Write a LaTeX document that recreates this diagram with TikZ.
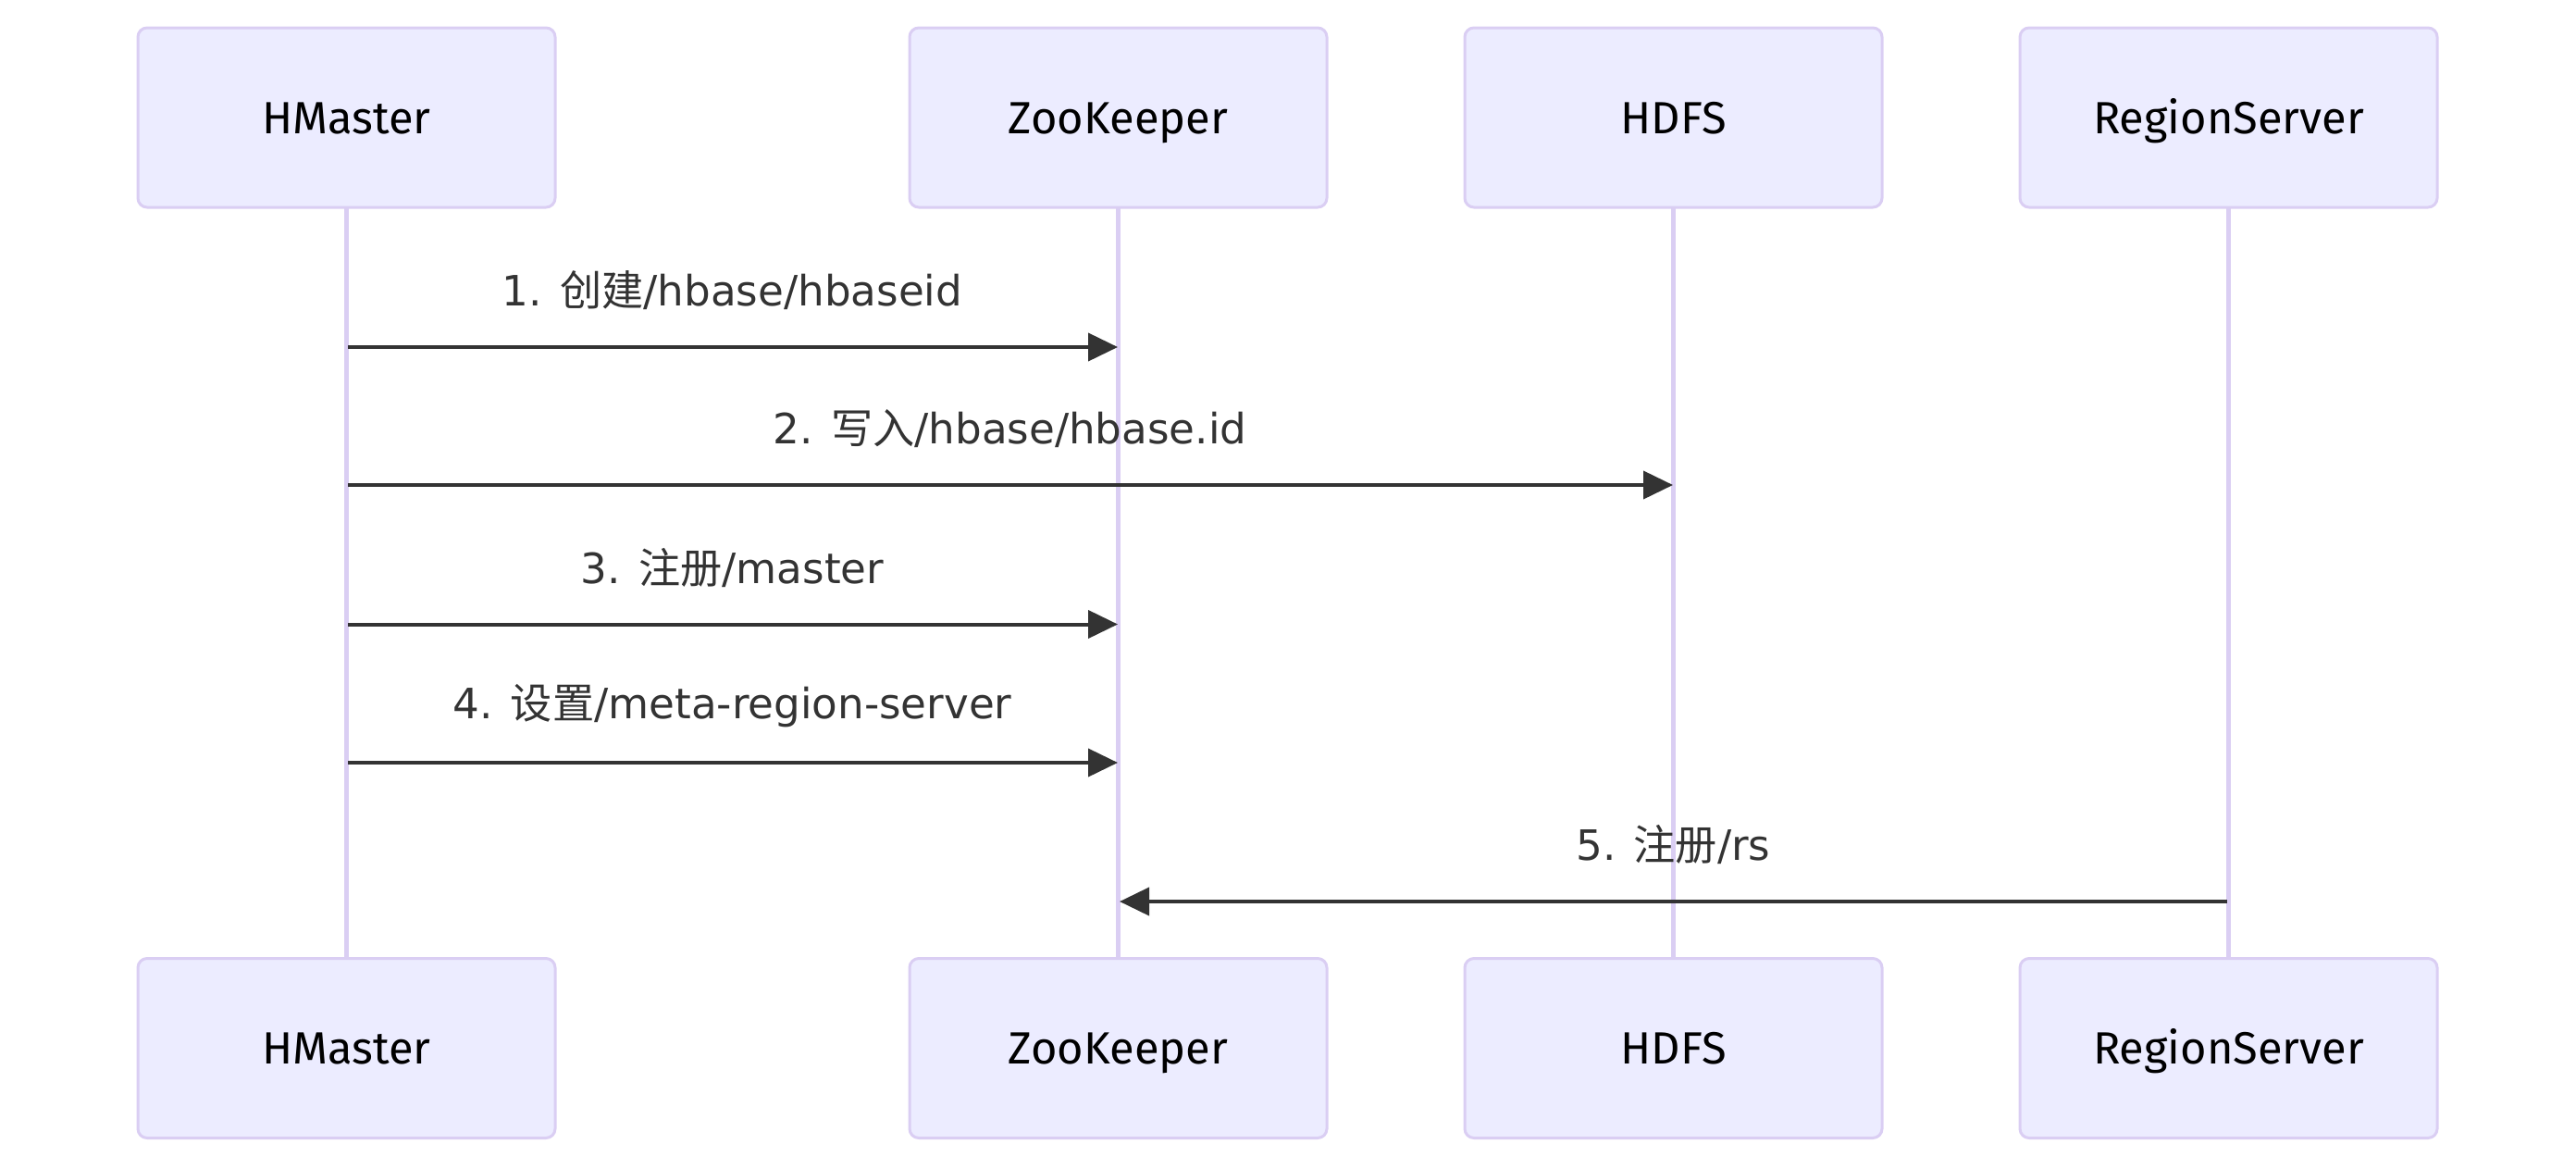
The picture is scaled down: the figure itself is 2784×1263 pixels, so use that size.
\documentclass[tikz,border=0pt]{standalone}
\usepackage{fontspec}
\setmainfont{DejaVu Sans}
\newfontfamily\cjk{Noto Sans CJK SC}
\newfontfamily\actorfont{Fira Sans}
\usetikzlibrary{arrows.meta}
\definecolor{actorfill}{HTML}{ECECFF}
\definecolor{actorline}{HTML}{DACEF3}
\definecolor{msgline}{HTML}{333333}
\tikzset{
  actor/.style={draw=actorline, fill=actorfill, line width=0.75pt, rounded corners=2.5pt,
    minimum width=112.75pt, minimum height=48.5pt, inner sep=0pt,
    text height=8.6pt, text depth=0pt,
    font=\actorfont\fontsize{12.2}{14}\selectfont, text=black},
  lifeline/.style={draw=actorline, line width=1.25pt},
  msg/.style={draw=msgline, line width=1pt, -{Triangle[length=8pt,width=7.5pt]}},
  msglabel/.style={font=\fontsize{11.3}{13}\selectfont, text=msgline, inner sep=0pt}
}
\begin{document}
\begin{tikzpicture}[x=0.25pt,y=-0.25pt]
\useasboundingbox (0,0) rectangle (2784,1263);
% lifelines first (behind boxes)
\foreach \n/\x in {hm/374.5,zk/1208.5,hd/1808.5,rs/2408.5}{
  \coordinate (\n top) at (\x,224);
  \coordinate (\n bot) at (\x,1035);
}
\draw[lifeline] (hmtop) -- (hmbot);
\draw[lifeline] (zktop) -- (zkbot);
\draw[lifeline] (hdtop) -- (hdbot);
\draw[lifeline] (rstop) -- (rsbot);
% actors
\node[actor] (hmT) at (374.5,127) {HMaster};
\node[actor] (zkT) at (1208.5,127) {ZooKeeper};
\node[actor] (hdT) at (1808.5,127) {HDFS};
\node[actor] (rsT) at (2408.5,127) {RegionServer};
\node[actor] (hmB) at (374.5,1132.5) {HMaster};
\node[actor] (zkB) at (1208.5,1132.5) {ZooKeeper};
\node[actor] (hdB) at (1808.5,1132.5) {HDFS};
\node[actor] (rsB) at (2408.5,1132.5) {RegionServer};
% message anchor points
\coordinate (m1s) at (376,375);   \coordinate (m1e) at (1208,375);
\coordinate (m2s) at (376,524);   \coordinate (m2e) at (1808,524);
\coordinate (m3s) at (376,674.5); \coordinate (m3e) at (1208,674.5);
\coordinate (m4s) at (376,824);   \coordinate (m4e) at (1208,824);
\coordinate (m5s) at (2407,974);  \coordinate (m5e) at (1210,974);
\draw[msg] (m1s) -- (m1e);
\draw[msg] (m2s) -- (m2e);
\draw[msg] (m3s) -- (m3e);
\draw[msg] (m4s) -- (m4e);
\draw[msg] (m5s) -- (m5e);
% labels
\node[msglabel] (l1) at (791.5,314) {1. {\cjk 创建}/hbase/hbaseid};
\node[msglabel] (l2) at (1091.5,463) {2. {\cjk 写入}/hbase/hbase.id};
\node[msglabel] (l3) at (791.5,613.5) {3. {\cjk 注册}/master};
\node[msglabel] (l4) at (791.5,763) {4. {\cjk 设置}/meta-region-server};
\node[msglabel] (l5) at (1808.5,913) {5. {\cjk 注册}/rs};
\end{tikzpicture}
\end{document}
